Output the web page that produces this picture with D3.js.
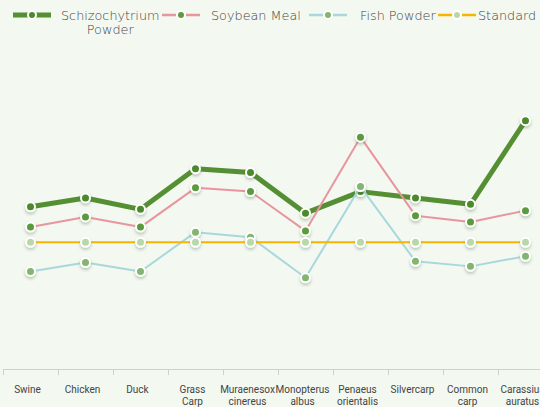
<!DOCTYPE html>
<html>
<head>
<meta charset="utf-8">
<script src="https://cdn.jsdelivr.net/npm/d3@7"></script>
<style>
  html, body { margin: 0; padding: 0; background: #f3f8f1; overflow: hidden; }
  svg { display: block; }
</style>
</head>
<body>
<script>
// categories on the x axis ("\n" = line break in the label)
var categories = ["Swine", "Chicken", "Duck", "Grass\nCarp", "Muraenesox\ncinereus",
  "Monopterus\nalbus", "Penaeus\norientalis", "Silvercarp", "Common\ncarp", "Carassius\nauratus"];

// series values (relative to the standard = 1)
var schizoValues = [1.28, 1.35, 1.26, 1.58, 1.55, 1.23, 1.40, 1.35, 1.30, 1.96];
var soybeanValues = [1.12, 1.20, 1.12, 1.43, 1.40, 1.09, 1.83, 1.21, 1.16, 1.25];
var fishValues = [0.77, 0.84, 0.77, 1.08, 1.04, 0.72, 1.44, 0.85, 0.81, 0.89];
var standardValues = [1, 1, 1, 1, 1, 1, 1, 1, 1, 1];

var seriesNames = ["Schizochytrium\nPowder", "Soybean Meal", "Fish Powder", "Standard"];

var width = 540, height = 407;

// series styles
var styles = [
  { line: "#558f33", width: 5, dot: "#4c8a2b" },
  { line: "#e8959e", width: 2, dot: "#5c9b3e" },
  { line: "#a8d8dc", width: 2, dot: "#82b570" },
  { line: "#f6b500", width: 2, dot: "#b8d8aa" }
];

var series = [schizoValues, soybeanValues, fishValues, standardValues].map(function (vals, i) {
  return { name: seriesNames[i], style: styles[i],
    points: vals.map(function (v, j) { return { cat: categories[j], value: v }; }) };
});

var svg = d3.select("body").append("svg")
  .attr("width", width)
  .attr("height", height);

var defs = svg.append("defs");
var shadow = defs.append("filter").attr("id", "shadow")
  .attr("x", "-50%").attr("y", "-50%").attr("width", "200%").attr("height", "200%");
shadow.append("feDropShadow")
  .attr("dx", 0).attr("dy", 2).attr("stdDeviation", 1.5)
  .attr("flood-color", "#4a6a40").attr("flood-opacity", 0.35);

svg.append("rect").attr("width", width).attr("height", height).attr("fill", "#f3f8f1");

// scales
var x = d3.scaleBand().domain(categories).range([3, 553]).padding(0);
var y = d3.scaleLinear().domain([0, 2.5]).range([369, 52.25]);

// x axis: line, boundary ticks, labels
var axis = svg.append("g").attr("class", "x-axis");
axis.append("line")
  .attr("x1", 3).attr("x2", width)
  .attr("y1", 369.5).attr("y2", 369.5)
  .attr("stroke", "#cdd2cb").attr("stroke-width", 1);
axis.selectAll(".tick")
  .data(categories)
  .enter().append("line")
  .attr("class", "tick")
  .attr("x1", function (d) { return Math.round(x(d)) + 0.5; })
  .attr("x2", function (d) { return Math.round(x(d)) + 0.5; })
  .attr("y1", 369.5).attr("y2", 375)
  .attr("stroke", "#cdd2cb");

axis.selectAll(".label")
  .data(categories)
  .enter().append("g")
  .attr("class", "label")
  .each(function (d) {
    var g = d3.select(this);
    d.split("\n").forEach(function (part, k) {
      g.append("text")
        .attr("text-anchor", "middle")
        .attr("font-family", "Roboto, sans-serif")
        .attr("font-size", 10)
        .attr("fill", "#444")
        .attr("x", x(d) + x.bandwidth() / 2 - 3)
        .attr("y", 393 + k * 12)
        .text(part);
    });
  });

// lines and points
var line = d3.line()
  .x(function (d) { return x(d.cat) + x.bandwidth() / 2; })
  .y(function (d) { return y(d.value); });

series.forEach(function (s) {
  var g = svg.append("g").attr("class", "series");
  g.append("path")
    .datum(s.points)
    .attr("fill", "none")
    .attr("stroke", s.style.line)
    .attr("stroke-width", s.style.width)
    .attr("stroke-linejoin", "round")
    .attr("d", line);
  g.selectAll("circle")
    .data(s.points)
    .enter().append("circle")
    .attr("cx", function (d) { return x(d.cat) + x.bandwidth() / 2; })
    .attr("cy", function (d) { return y(d.value); })
    .attr("r", 4.5)
    .attr("fill", s.style.dot)
    .attr("stroke", "#fff")
    .attr("stroke-width", 2)
    .attr("filter", "url(#shadow)");
});

// legend: item start positions and text gap as laid out in the original
var legendX = [13, 162, 309, 438];
var legendGap = [10, 11, 13, 2];
var legend = svg.append("g").attr("class", "legend");
series.forEach(function (s, i) {
  var lx = legendX[i];
  var item = legend.append("g");
  item.append("line")
    .attr("x1", lx).attr("x2", lx + 38)
    .attr("y1", 15).attr("y2", 15)
    .attr("stroke", s.style.line)
    .attr("stroke-width", i === 0 ? 5 : 2.5);
  item.append("circle")
    .attr("cx", lx + 19).attr("cy", 15).attr("r", 4)
    .attr("fill", s.style.dot)
    .attr("stroke", "#fff").attr("stroke-width", 2);
  var parts = s.name.split("\n");
  var texts = parts.map(function (p, k) {
    return item.append("text")
      .attr("font-family", "'DejaVu Sans', sans-serif")
      .attr("font-weight", 200)
      .attr("font-size", 12.8)
      .attr("fill", "#444")
      .attr("text-anchor", "middle")
      .attr("y", 19.5 + k * 14)
      .text(p);
  });
  var w = d3.max(texts, function (t) { return t.node().getComputedTextLength(); });
  texts.forEach(function (t) { t.attr("x", lx + 38 + legendGap[i] + w / 2); });
});
</script>
</body>
</html>
